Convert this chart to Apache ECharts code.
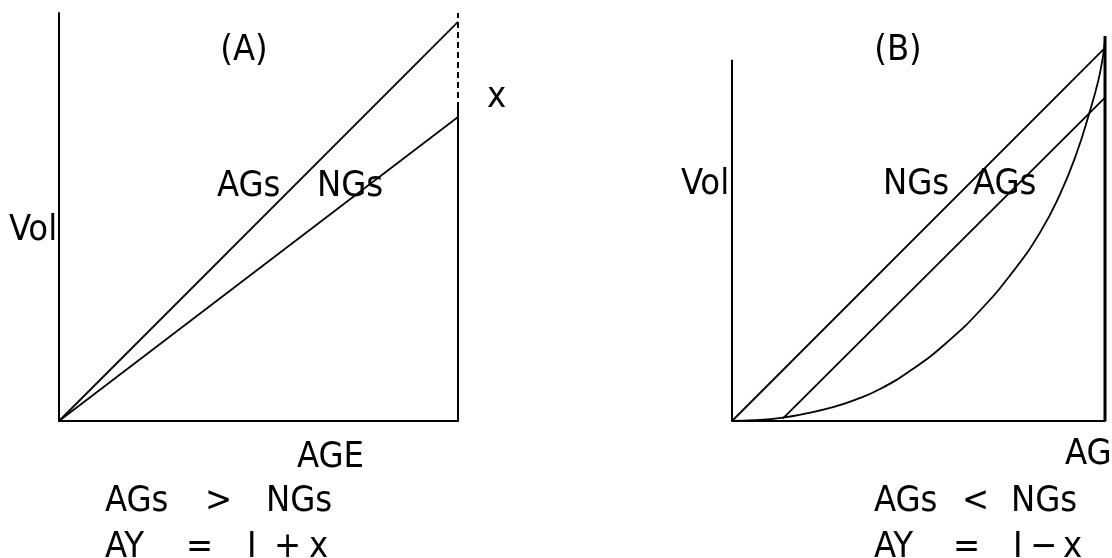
<!DOCTYPE html>
<html>
<head>
<meta charset="utf-8">
<script src="https://cdn.jsdelivr.net/npm/echarts@6/dist/echarts.min.js"></script>
<style>
html,body{margin:0;padding:0;background:#fff;}
#c{width:1112px;height:558px;}
</style>
</head>
<body>
<div id="c"></div>
<script>
// ---- Panel A data (AGE 0..100, Vol 0..100) ----
const ageA = [0, 100];
const agsVolA = [0, 97.8];
const ngsVolA = [0, 74.5];
const rightSolidA = [0, 76.7];
const rightDashA = [76.7, 100];

// ---- Panel B data ----
const ageB = [0, 100];
const ngsVolB = [0, 96.9];
const agsStartB = [13.6, 0.6];
const agsEndB = [100, 84];
const yAxisTopB = 93.8;
const rightTopB = 100;
const curveAgeB = [0, 6, 13.6, 20, 26.3, 33, 39.7, 48.6, 57.6, 66.5, 75.4, 82.6, 87.9, 92.4, 95.8, 98.2, 99.4, 100];
const curveVolB = [0, 0.2, 0.9, 2, 3.4, 5.5, 8.3, 13.6, 20.4, 28.7, 38.9, 49.0, 58.8, 69.6, 80.0, 88.4, 94.4, 99];

// ---- texts ----
const panelTitles = ['(A)', '(B)'];
const axisNames = ['Vol', 'AGE'];
const seriesNamesA = ['AGs', 'NGs'];
const seriesNamesB = ['NGs', 'AGs'];
const relA = ['AGs', '>', 'NGs'];
const eqA = ['AY', '=', 'I', '+', 'x'];
const relB = ['AGs', '<', 'NGs'];
const eqB = ['AY', '=', 'I', '\u2212', 'x'];
const gapLabel = 'x';

const chart = echarts.init(document.getElementById('c'), null, {renderer: 'canvas'});

const zipXY = (xs, ys) => xs.map((x, i) => [x, ys[i]]);
const FONT = '"DejaVu Sans Condensed", "Liberation Sans Narrow", "DejaVu Sans", sans-serif';
const FS = 36;

function txt(text, x, y, align) {
  return {
    type: 'text', x: x, y: y, silent: true,
    style: { text: text, fill: '#000', font: FS + 'px ' + FONT,
             align: align || 'left', verticalAlign: 'middle' }
  };
}

const axisCommon = (idx, showLine) => ({
  type: 'value', min: 0, max: 100, gridIndex: idx,
  axisLine: { show: showLine, lineStyle: { color: '#000', width: 2 } },
  axisTick: { show: false }, axisLabel: { show: false }, splitLine: { show: false }
});

const lineSeries = (xi, data, opts) => Object.assign({
  type: 'line', xAxisIndex: xi, yAxisIndex: xi, data: data,
  symbol: 'none', silent: true, animation: false,
  lineStyle: { color: '#000', width: 1.8 }
}, opts || {});

const option = {
  backgroundColor: '#fff',
  animation: false,
  grid: [
    { left: 59, top: 13, width: 399, height: 408 },
    { left: 732, top: 36, width: 373, height: 385 }
  ],
  xAxis: [axisCommon(0, true), axisCommon(1, true)],
  yAxis: [axisCommon(0, true), axisCommon(1, false)],
  series: [
    // Panel A
    lineSeries(0, zipXY(ageA, agsVolA)),
    lineSeries(0, zipXY(ageA, ngsVolA)),
    lineSeries(0, rightSolidA.map(v => [100, v]), { lineStyle: { color: '#000', width: 2 } }),
    lineSeries(0, rightDashA.map(v => [100, v]), { lineStyle: { color: '#000', width: 2, type: [6, 4] } }),
    // Panel B
    lineSeries(1, [[0, 0], [0, yAxisTopB]], { lineStyle: { color: '#000', width: 2 } }),
    lineSeries(1, [[100, 0], [100, rightTopB]], { lineStyle: { color: '#000', width: 3 } }),
    lineSeries(1, zipXY(ageB, ngsVolB)),
    lineSeries(1, [agsStartB, agsEndB]),
    lineSeries(1, zipXY(curveAgeB, curveVolB), { smooth: 0.5 })
  ],
  graphic: [
    // Panel A texts
    txt(panelTitles[0], 244, 51, 'center'),
    txt(gapLabel, 487, 98),
    txt(seriesNamesA[0], 217, 187),
    txt(seriesNamesA[1], 317, 187),
    txt(axisNames[0], 9, 231),
    txt(axisNames[1], 297, 458),
    txt(relA[0], 105, 502),
    txt(relA[1], 205, 502),
    txt(relA[2], 266, 502),
    txt(eqA[0], 105, 548),
    txt(eqA[1], 186, 548),
    txt(eqA[2], 247, 548),
    txt(eqA[3], 274, 548),
    txt(eqA[4], 309, 548),
    // Panel B texts
    txt(panelTitles[1], 898, 51, 'center'),
    txt(axisNames[0], 681, 185),
    txt(seriesNamesB[0], 883, 185),
    txt(seriesNamesB[1], 973, 185),
    txt(axisNames[1], 1065, 455),
    txt(relB[0], 874, 502),
    txt(relB[1], 962, 502),
    txt(relB[2], 1011, 502),
    txt(eqB[0], 874, 548),
    txt(eqB[1], 953, 548),
    txt(eqB[2], 1013, 548),
    txt(eqB[3], 1030, 548),
    txt(eqB[4], 1063, 548)
  ]
};
chart.setOption(option);
</script>
</body>
</html>
